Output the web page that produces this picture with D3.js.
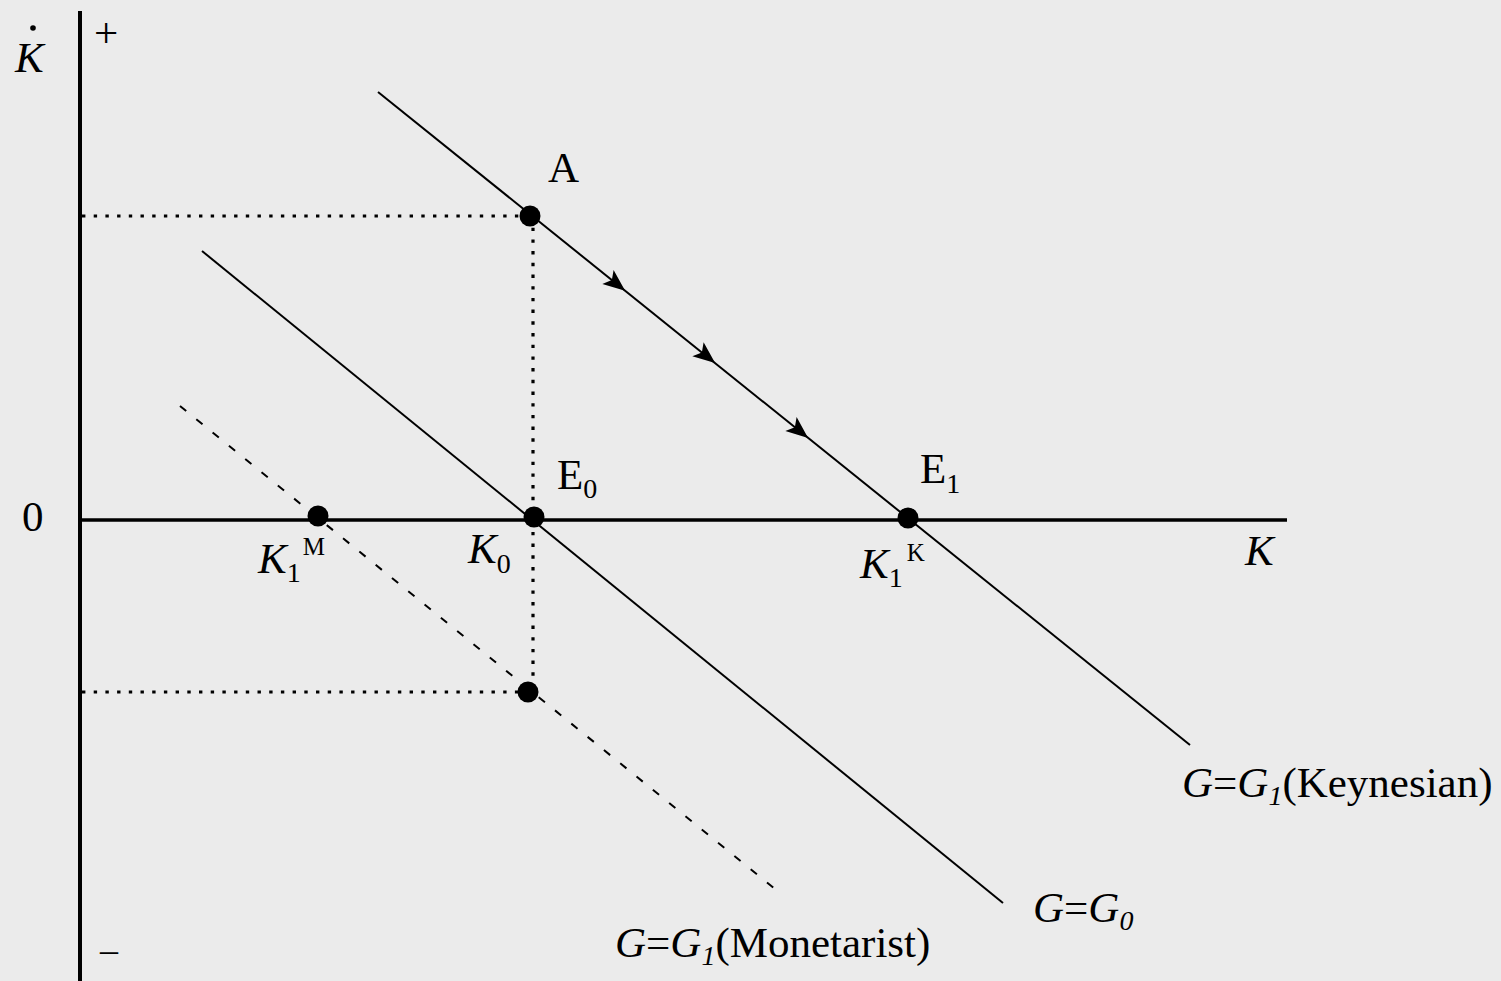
<!DOCTYPE html>
<html>
<head>
<meta charset="utf-8">
<script src="https://cdn.jsdelivr.net/npm/d3@7/dist/d3.min.js"></script>
<style>
  html, body { margin: 0; padding: 0; background: #ebebeb; }
  svg { display: block; }
  text { font-family: "Liberation Serif", "Times New Roman", serif; fill: #000; }
</style>
</head>
<body>
<svg id="chart" width="1501" height="981"></svg>
<script>
// ---- data (K on x axis, K-dot on y axis, arbitrary units) ----
const lineIds      = ["keynesian", "g0", "monetarist"];
const lineStartK   = [2.98, 1.22, 1.00];
const lineStartKd  = [4.28, 2.69, 1.14];
const lineEndK     = [11.10, 9.23, 7.00];
const lineEndKd    = [-2.25, -3.83, -3.73];
const lineDashed   = [false, false, true];

const pointIds     = ["A", "E0", "E1", "K1M", "B"];
const pointK       = [4.50, 4.54, 8.28, 2.38, 4.48];
const pointKd      = [3.04, 0.03, 0.02, 0.04, -1.72];

const arrowK       = [5.42, 6.32, 7.25];   // flow arrows along the Keynesian line
const guideK       = 4.53;                  // vertical dotted guide at K0
const guideLevels  = [3.04, -1.72];         // horizontal dotted guides

const svg = d3.select("#chart");
const W = 1501, H = 981;
svg.append("rect").attr("width", W).attr("height", H).attr("fill", "#ebebeb");

const x = d3.scaleLinear().domain([0, 12.07]).range([80, 1287]);
const y = d3.scaleLinear().domain([-4.61, 5.09]).range([981, 11]);

// axes
svg.append("line").attr("x1", x(0)).attr("x2", x(0)).attr("y1", y(5.09)).attr("y2", y(-4.61))
  .attr("stroke", "#000").attr("stroke-width", 4);
svg.append("line").attr("x1", x(0)).attr("x2", x(12.07)).attr("y1", y(0)).attr("y2", y(0))
  .attr("stroke", "#000").attr("stroke-width", 3.5);

// dotted guides
guideLevels.forEach(v => {
  svg.append("line").attr("x1", x(0) + 2).attr("x2", x(guideK)).attr("y1", y(v)).attr("y2", y(v))
    .attr("stroke", "#000").attr("stroke-width", 3.2).attr("stroke-dasharray", "3.4,8.3");
});
svg.append("line").attr("x1", x(guideK)).attr("x2", x(guideK)).attr("y1", y(guideLevels[0])).attr("y2", y(guideLevels[1]))
  .attr("stroke", "#000").attr("stroke-width", 3.2).attr("stroke-dasharray", "3.4,8.3");

// lines
lineIds.forEach((id, i) => {
  svg.append("line")
    .attr("x1", x(lineStartK[i])).attr("y1", y(lineStartKd[i]))
    .attr("x2", x(lineEndK[i])).attr("y2", y(lineEndKd[i]))
    .attr("stroke", "#000").attr("stroke-width", 2)
    .attr("stroke-dasharray", lineDashed[i] ? "8,13" : null);
});

// arrows on Keynesian line
const kx1 = x(lineStartK[0]), ky1 = y(lineStartKd[0]), kx2 = x(lineEndK[0]), ky2 = y(lineEndKd[0]);
const ang = Math.atan2(ky2 - ky1, kx2 - kx1) * 180 / Math.PI;
const slopeK = (lineEndKd[0] - lineStartKd[0]) / (lineEndK[0] - lineStartK[0]);
arrowK.forEach(k => {
  const kd = lineStartKd[0] + slopeK * (k - lineStartK[0]);
  svg.append("path")
    .attr("d", "M4,0 L-18,-9 L-13,0 L-18,9 Z")
    .attr("transform", `translate(${x(k)},${y(kd)}) rotate(${ang})`)
    .attr("fill", "#000");
});

// points
pointIds.forEach((id, i) => {
  svg.append("circle").attr("cx", x(pointK[i])).attr("cy", y(pointKd[i])).attr("r", 10.5).attr("fill", "#000");
});

// ---- labels ----
function label(xp, yp, parts, size) {
  const t = svg.append("text").attr("x", xp).attr("y", yp).attr("font-size", size || 43);
  parts.forEach(p => {
    const s = t.append("tspan").text(p.t);
    if (p.i) s.attr("font-style", "italic");
    if (p.s) s.attr("font-size", p.s);
    if (p.dy) s.attr("dy", p.dy);
    if (p.dx) s.attr("dx", p.dx);
  });
  return t;
}
// y-axis label K-dot
label(15, 72, [{t: "K", i: true}]);
svg.append("circle").attr("cx", 33).attr("cy", 28).attr("r", 2.8).attr("fill", "#000");
label(94, 47, [{t: "+"}]);
label(100, 962, [{t: "–"}], 36);
label(22, 531, [{t: "0"}]);

label(548, 182, [{t: "A"}]);
label(557, 489, [{t: "E"}, {t: "0", s: 28, dy: 9}]);
label(920, 483, [{t: "E"}, {t: "1", s: 28, dy: 10}]);

label(258, 573, [{t: "K", i: true}, {t: "1", s: 28, dy: 9}, {t: "M", s: 25, dy: -27, dx: 2}]);
label(468, 563, [{t: "K", i: true}, {t: "0", s: 28, dy: 10}]);
label(860, 578, [{t: "K", i: true}, {t: "1", s: 28, dy: 9}, {t: "K", s: 25, dy: -26, dx: 4}]);
label(1245, 565, [{t: "K", i: true}]);

label(1182, 797, [{t: "G", i: true}, {t: "="}, {t: "G", i: true}, {t: "1", i: true, s: 28, dy: 8}, {t: "(Keynesian)", dy: -8}]);
label(1033, 922, [{t: "G", i: true}, {t: "="}, {t: "G", i: true}, {t: "0", i: true, s: 28, dy: 8}]);
label(615, 957, [{t: "G", i: true}, {t: "="}, {t: "G", i: true}, {t: "1", i: true, s: 28, dy: 8}, {t: "(Monetarist)", dy: -8}]);
</script>
</body>
</html>
